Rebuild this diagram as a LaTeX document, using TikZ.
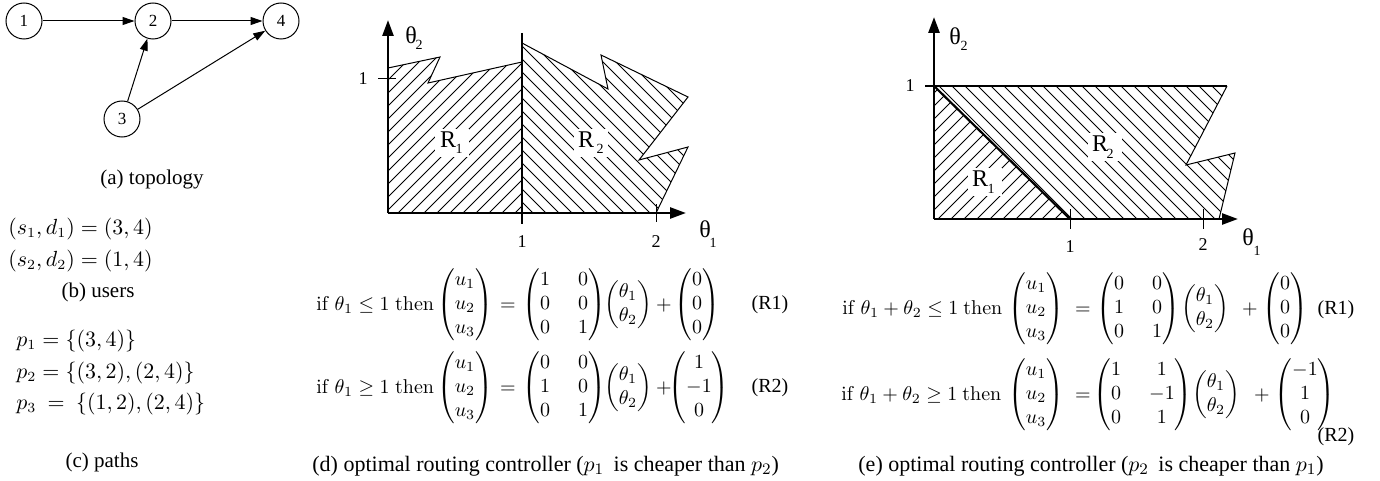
\documentclass[tikz,border=0pt]{standalone}
\usepackage{amsmath}
\usepackage[no-math]{fontspec}
\setmainfont{Liberation Serif}
\usetikzlibrary{arrows.meta}
\newcommand\myuvec{$\begin{pmatrix}u_1\\u_2\\u_3\end{pmatrix}$}
\newcommand\mythvec{$\begin{pmatrix}\theta_1\\\theta_2\end{pmatrix}$}
\newcommand\mymat[6]{$\setlength\arraycolsep{7pt}\begin{pmatrix}#1&#2\\#3&#4\\#5&#6\end{pmatrix}$}
\newcommand\mycvec[3]{$\begin{pmatrix}#1\\#2\\#3\end{pmatrix}$}
\begin{document}
\begin{tikzpicture}[x=0.5pt,y=-0.5pt,
  vtx/.style={circle,draw,line width=0.5pt,minimum size=18pt,inner sep=0pt,font=\fontsize{8.5}{10}\selectfont},
  conn/.style={line width=0.5pt,-{Triangle[length=6pt,width=4pt]}},
  capt/.style={font=\fontsize{10.5}{12}\selectfont,inner sep=0pt},
  captw/.style={font=\fontsize{11}{13}\selectfont,inner sep=0pt,anchor=west},
  lmath/.style={font=\fontsize{10.5}{12}\selectfont,inner sep=0pt,anchor=west},
  axisl/.style={line width=1.3pt,-{Triangle[length=8pt,width=5.5pt]}},
  thinl/.style={line width=0.5pt},
  hatch/.style={line width=0.4pt},
  tickl/.style={font=\fontsize{9}{10}\selectfont,inner sep=0pt},
  thl/.style={font=\fontsize{12}{14}\selectfont,inner sep=0pt},
  subl/.style={font=\fontsize{7}{8}\selectfont,inner sep=0pt},
  rl/.style={font=\fontsize{12}{14}\selectfont,inner sep=0pt},
  rbox/.style={fill=white,minimum width=17pt,minimum height=14pt,inner sep=0pt},
  eqp/.style={font=\fontsize{10}{12}\selectfont,inner sep=0pt,anchor=base},
  eqw/.style={font=\fontsize{10}{12}\selectfont,inner sep=0pt,anchor=base west},
  tagt/.style={font=\fontsize{10}{12}\selectfont,inner sep=0pt}
]
\useasboundingbox (0,0) rectangle (1380,481);

% ---------- (a) topology ----------
\node[vtx] (n1) at (24,21) {1};
\node[vtx] (n2) at (153,21) {2};
\node[vtx] (n4) at (281,21) {4};
\node[vtx] (n3) at (122,119) {3};
\draw[conn] (n1) -- (n2);
\draw[conn] (n2) -- (n4);
\draw[conn] (n3) -- (n2);
\draw[conn] (n3) -- (n4);
\node[capt] (capa) at (152,179) {(a) topology};

% ---------- (b) users ----------
\node[lmath] (u1) at (8,229) {$(s_1,d_1)=(3,4)$};
\node[lmath] (u2) at (8,261) {$(s_2,d_2)=(1,4)$};
\node[capt] (capb) at (98,292) {(b) users};

% ---------- (c) paths ----------
\node[lmath] (pa) at (16,341) {$p_1=\{(3,4)\}$};
\node[lmath] (pb) at (16,373) {$p_2=\{(3,2),(2,4)\}$};
\node[lmath] (pc) at (16,404) {$p_3\ =\ \{(1,2),(2,4)\}$};
\node[capt] (capc) at (102,462) {(c) paths};

% ---------- (d) plot ----------
\begin{scope}
\clip (388,68) -- (440,57) -- (428,83) -- (522,62) -- (522,213) -- (388,213) -- cycle;
\foreach \k in {0,...,150} \draw[hatch] (\k*13-500,500) -- ++(500,-500);
\end{scope}
\begin{scope}
\clip (522,43) -- (608,89) -- (601,55) -- (688,97) -- (639,160) -- (688,147) -- (656,213) -- (522,213) -- cycle;
\foreach \k in {0,...,150} \draw[hatch] (\k*13-200,0) -- ++(500,500);
\end{scope}
\draw[thinl] (388,68) -- (440,57) -- (428,83) -- (522,62);
\draw[thinl] (522,43) -- (608,89) -- (601,55) -- (688,97) -- (639,160) -- (688,147) -- (656,213);
\draw[line width=0.7pt] (522,33) -- (522,224);
\draw[thinl] (656,204) -- (656,222);
\draw[thinl] (378,79) -- (396,79);
\draw[axisl] (388,213) -- (388,20);
\draw[axisl] (388,213) -- (686,213);
\node[tickl] (d1y) at (363,79) {1};
\node[tickl] (d1x) at (522,242) {1};
\node[tickl] (d2x) at (656,242) {2};
\node[thl] (dth2) at (411,35) {θ};
\node[subl] (dth2s) at (419,45) {2};
\node[thl] (dth1) at (705,229) {θ};
\node[subl] (dth1s) at (713,243) {1};
\node[rbox] (dr1b) at (452,143) {};
\node[rl] (dr1) at (448,140) {R};
\node[subl] (dr1s) at (459,149) {1};
\node[rbox] (dr2b) at (591,143) {};
\node[rl] (dr2) at (586,140) {R};
\node[subl] (dr2s) at (600,149) {2};

% ---------- (d) equations ----------
\node[eqw] (d1if) at (316,310) {$\mathrm{if}\ \theta_1 \le 1\;\mathrm{then}$};
\node[eqp] (d1u) at (465,310) {\myuvec};
\node[eqp] (d1eq) at (508,310) {$=$};
\node[eqp] (d1m) at (564,310) {\mymat{1}{0}{0}{0}{0}{1}};
\node[eqp] (d1t) at (628,310) {\mythvec};
\node[eqp] (d1p) at (664,310) {$+$};
\node[eqp] (d1c) at (697,310) {\mycvec{0}{0}{0}};
\node[tagt] (tagd1) at (770,305) {(R1)};

\node[eqw] (d2if) at (316,393) {$\mathrm{if}\ \theta_1 \ge 1\;\mathrm{then}$};
\node[eqp] (d2u) at (465,393) {\myuvec};
\node[eqp] (d2eq) at (508,393) {$=$};
\node[eqp] (d2m) at (564,393) {\mymat{0}{0}{1}{0}{0}{1}};
\node[eqp] (d2t) at (628,393) {\mythvec};
\node[eqp] (d2p) at (664,393) {$+$};
\node[eqp] (d2c) at (699,393) {\mycvec{1}{-1}{0}};
\node[tagt] (tagd2) at (770,388) {(R2)};

\node[captw] (capd) at (312,466) {(d) optimal routing controller ($p_1$\hspace{2pt} is cheaper than $p_2$)};

% ---------- (e) plot ----------
\begin{scope}
\clip (934,86) -- (1070,219) -- (934,219) -- cycle;
\foreach \k in {0,...,150} \draw[hatch] (\k*13-500,500) -- ++(500,-500);
\end{scope}
\begin{scope}
\clip (934,86) -- (1227,86) -- (1186,165) -- (1235,153) -- (1219,219) -- (1070,219) -- cycle;
\foreach \k in {0,...,150} \draw[hatch] (\k*13-200,0) -- ++(500,500);
\end{scope}
\draw[line width=0.8pt] (925,86) -- (1227,86);
\draw[thinl] (1227,86) -- (1186,165) -- (1235,153) -- (1219,219);
\draw[line width=1.1pt] (934,86) -- (1070,219);
\draw[thinl] (1070,209) -- (1070,229);
\draw[thinl] (1203,209) -- (1203,229);
\draw[axisl] (934,219) -- (934,17);
\draw[axisl] (934,219) -- (1238,219);
\node[tickl] (e1y) at (910,86) {1};
\node[tickl] (e1x) at (1070,247) {1};
\node[tickl] (e2x) at (1203,245) {2};
\node[thl] (eth2) at (955,36) {θ};
\node[subl] (eth2s) at (964,46) {2};
\node[thl] (eth1) at (1248,237) {θ};
\node[subl] (eth1s) at (1257,251) {1};
\node[rbox] (er1b) at (985,182) {};
\node[rl] (er1) at (980,179) {R};
\node[subl] (er1s) at (991,189) {1};
\node[rbox] (er2b) at (1105,147) {};
\node[rl] (er2) at (1100,144) {R};
\node[subl] (er2s) at (1110,154) {2};

% ---------- (e) equations ----------
\node[eqw] (e1if) at (842,314) {$\mathrm{if}\ \theta_1+\theta_2 \le 1\ \mathrm{then}$};
\node[eqp] (e1u) at (1036,314) {\myuvec};
\node[eqp] (e1eq) at (1083,314) {$=$};
\node[eqp] (e1m) at (1138,314) {\mymat{0}{0}{1}{0}{0}{1}};
\node[eqp] (e1t) at (1205,314) {\mythvec};
\node[eqp] (e1p) at (1250,314) {$+$};
\node[eqp] (e1c) at (1285,314) {\mycvec{0}{0}{0}};
\node[tagt] (tage1) at (1336,310) {(R1)};

\node[eqw] (e2if) at (841,400) {$\mathrm{if}\ \theta_1+\theta_2 \ge 1\ \mathrm{then}$};
\node[eqp] (e2u) at (1036,400) {\myuvec};
\node[eqp] (e2eq) at (1083,400) {$=$};
\node[eqp] (e2m) at (1143,400) {\mymat{1}{1}{0}{-1}{0}{1}};
\node[eqp] (e2t) at (1216,400) {\mythvec};
\node[eqp] (e2p) at (1262,400) {$+$};
\node[eqp] (e2c) at (1305,400) {\mycvec{-1}{1}{0}};
\node[tagt] (tage2) at (1336,437) {(R2)};

\node[captw] (cape) at (858,466) {(e) optimal routing controller ($p_2$\hspace{2pt} is cheaper than $p_1$)};
\end{tikzpicture}
\end{document}
